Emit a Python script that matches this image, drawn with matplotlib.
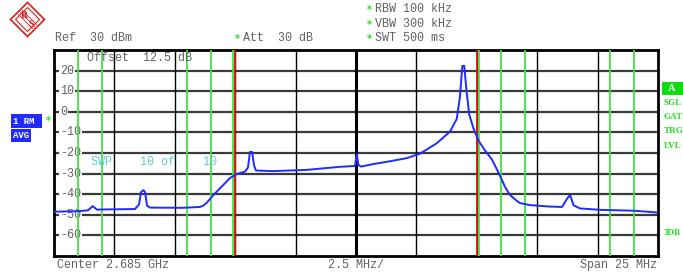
import matplotlib
matplotlib.use("Agg")
import matplotlib.pyplot as plt
import matplotlib.transforms as mtransforms
from matplotlib.patches import Polygon
from matplotlib.lines import Line2D

# trace: frequency offset from center [MHz] and level [dBm]
freq_mhz = [-12.5, -11.42, -11.09, -10.9, -10.72, -10.39, -9.15, -8.98, -8.9, -8.8,
            -8.73, -8.65, -8.53, -7.16, -6.46, -6.33, -6.18, -5.91, -5.49, -5.22,
            -4.94, -4.59, -4.47, -4.39, -4.3, -4.22, -4.14, -3.44, -2.04, -0.66,
            -0.04, 0.03, 0.1, 0.21, 0.7, 1.41, 2.1, 2.65, 3.34, 3.89,
            4.17, 4.3, 4.4, 4.48, 4.58, 4.69, 4.86, 5.06, 5.34, 5.62,
            5.89, 6.17, 6.37, 6.65, 6.79, 7.2, 8.03, 8.53, 8.72, 8.86,
            9.0, 9.27, 10.1, 11.47, 12.5]
level_dbm = [-48.5, -48.2, -47.8, -45.8, -47.5, -47.4, -47.2, -45.0, -39.0, -38.0,
             -39.0, -45.5, -46.5, -46.6, -46.2, -45.6, -44.2, -40.5, -35.5, -32.2,
             -30.2, -29.0, -27.0, -19.5, -19.5, -26.0, -28.5, -28.8, -28.2, -26.7,
             -26.3, -20.5, -25.8, -26.6, -25.4, -24.0, -22.5, -20.3, -15.3, -9.6,
             -3.5, 7.0, 22.2, 22.3, 9.5, -1.5, -8.0, -13.8, -18.8, -23.0,
             -29.3, -36.5, -40.3, -43.2, -44.3, -45.3, -46.0, -46.2, -42.5, -40.2,
             -45.3, -46.9, -47.6, -48.0, -48.9]

green_lines = [-11.5, -10.5, -7.0, -6.0, -5.1, 5.1, 6.0, 7.0, 10.5, 11.5]
red_lines = [-5.0, 5.0]
grid_levels = [20, 10, 0, -10, -20, -30, -40, -50, -60]
grid_freqs = [-10, -7.5, -5, -2.5, 0, 2.5, 5, 7.5, 10]

W, H = 683, 273
mono = "Liberation Mono"
gray = "#626262"
green = "#22dd22"


def fx(px):
    return px / W


def fy(py):
    return 1 - py / H


fig = plt.figure(figsize=(W / 100, H / 100), dpi=100)
ax = fig.add_axes([fx(54), 17 / H, 604 / W, 206 / H])
ax.set_xlim(-12.5, 12.5)
ax.set_ylim(-70, 30)
ax.set_xticks([])
ax.set_yticks([])
for s in ax.spines.values():
    s.set_linewidth(2)
    s.set_color("black")

for lv in grid_levels:
    ax.axhline(lv, color="#3a3a3a", lw=1.6, zorder=1)
for f in grid_freqs:
    ax.axvline(f, color="black", lw=2.2 if f == 0 else 1.0, zorder=1)

trans = mtransforms.blended_transform_factory(ax.transAxes, ax.transData)
for lv in grid_levels:
    ax.text(6 / 604, lv, str(lv), transform=trans, ha="left", va="center",
            family=mono, fontsize=8.5, color=gray, zorder=2,
            bbox=dict(fc="white", ec="none", pad=0.6))

for f in green_lines:
    ax.axvline(f, color="#44e044", lw=1.3, zorder=3)
for f in red_lines:
    ax.axvline(f, color="#e01010", lw=1.3, zorder=3)

ax.plot(freq_mhz, level_dbm, color="#1f2bff", lw=1.4, zorder=4)

ax.text(33 / 604, 1 - 8 / 206, "Offset  12.5 dB", transform=ax.transAxes,
        ha="left", va="center", family=mono, fontsize=8.5, color=gray, zorder=5)
ax.text(37 / 604, 1 - 112 / 206, "SWP    10 of    10", transform=ax.transAxes,
        ha="left", va="center", family=mono, fontsize=8.5, color="#66cccc", zorder=5)

# header texts
fig.text(fx(55), fy(38), "Ref  30 dBm", family=mono, fontsize=8.5, color=gray, va="center")
fig.text(fx(243), fy(38), "Att  30 dB", family=mono, fontsize=8.5, color=gray, va="center")
fig.text(fx(375), fy(9), "RBW 100 kHz", family=mono, fontsize=8.5, color=gray, va="center")
fig.text(fx(375), fy(24), "VBW 300 kHz", family=mono, fontsize=8.5, color=gray, va="center")
fig.text(fx(375), fy(38), "SWT 500 ms", family=mono, fontsize=8.5, color=gray, va="center")
for px, py in [(237, 39), (369, 10), (369, 25), (369, 39), (48, 121)]:
    fig.text(fx(px), fy(py), "*", family="DejaVu Sans", fontsize=7, fontweight="bold",
             color=green, ha="center", va="center")

# footer texts
fig.text(fx(57), fy(265), "Center 2.685 GHz", family=mono, fontsize=8.5, color=gray, va="center")
fig.text(fx(356), fy(265), "2.5 MHz/", family=mono, fontsize=8.5, color=gray, va="center", ha="center")
fig.text(fx(657), fy(265), "Span 25 MHz", family=mono, fontsize=8.5, color=gray, va="center", ha="right")

# left side boxes
fig.text(fx(13), fy(121), "1 RM ", family=mono, fontsize=6.5, fontweight="bold", color="white",
         va="center", bbox=dict(fc="#1f2bff", ec="none", pad=1.6))
fig.text(fx(13), fy(135.5), "AVG", family=mono, fontsize=6.5, fontweight="bold", color="white",
         va="center", bbox=dict(fc="#1f2bff", ec="none", pad=1.6))

# right side status
fig.patches.append(Polygon([(fx(662), fy(82)), (fx(683), fy(82)), (fx(683), fy(95)), (fx(662), fy(95))],
                           closed=True, transform=fig.transFigure, fc="#10dd10", ec="none"))
fig.text(fx(672), fy(88.5), "A", family="Liberation Serif", fontsize=7.5, fontweight="bold",
         color="white", ha="center", va="center")
for py, t in [(103, "SGL"), (117, "GAT"), (131, "TRG"), (146, "LVL"), (233, "3DB")]:
    fig.text(fx(664), fy(py), t, family="Liberation Serif", fontsize=6.6, fontweight="bold",
             color=green, va="center")

# R&S logo
cx, cy, r = 27.5, 19.5, 17
outer = [(fx(cx), fy(cy - r)), (fx(cx + r), fy(cy)), (fx(cx), fy(cy + r)), (fx(cx - r), fy(cy))]
fig.patches.append(Polygon(outer, closed=True, transform=fig.transFigure, fc="white", ec="#d02020", lw=1.2))
r2 = 12
inner = [(fx(cx), fy(cy - r2)), (fx(cx + r2), fy(cy)), (fx(cx), fy(cy + r2)), (fx(cx - r2), fy(cy))]
fig.patches.append(Polygon(inner, closed=True, transform=fig.transFigure, fc="none", ec="#d02020", lw=0.8))
for d in [-2, 0, 2]:
    fig.lines.append(Line2D([fx(cx - 7 + d), fx(cx + 7 + d)], [fy(cy - 7 - d), fy(cy + 7 - d)],
                            transform=fig.transFigure, color="#d02020", lw=0.6))
fig.text(fx(cx - 3.5), fy(cy - 4), "R", family="Liberation Serif", fontsize=7, fontweight="bold",
         color="#d02020", ha="center", va="center")
fig.text(fx(cx + 3.5), fy(cy + 5), "S", family="Liberation Serif", fontsize=7, fontweight="bold",
         color="#d02020", ha="center", va="center")

fig.savefig("out.png", dpi=100)
